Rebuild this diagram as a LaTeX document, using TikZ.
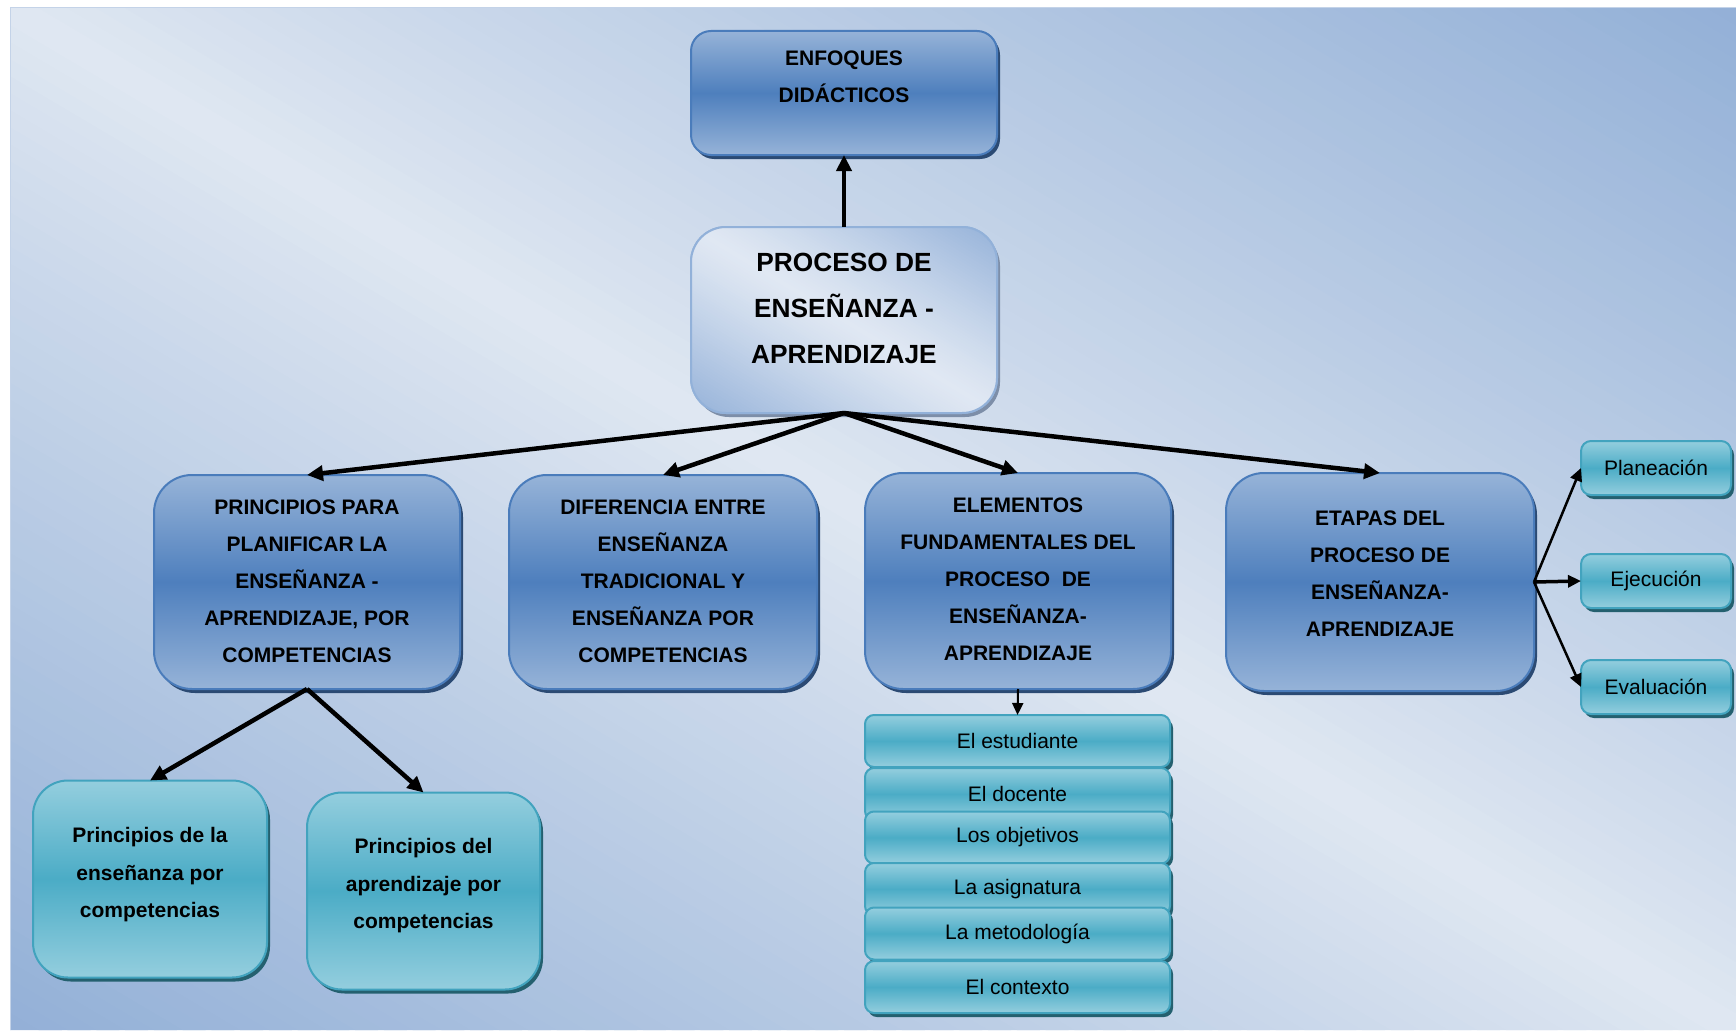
\documentclass[tikz,border=0pt]{standalone}
\usepackage{fontspec}
\setmainfont{Liberation Sans}
\usetikzlibrary{arrows.meta,shadows}
\definecolor{bgdark}{HTML}{93B0D7}
\definecolor{bglight}{HTML}{E0E8F2}
\definecolor{bgedge}{HTML}{C4D3E8}
\definecolor{blight}{HTML}{96B3D8}
\definecolor{bdark}{HTML}{4E7FBD}
\definecolor{bline}{HTML}{4A7CBB}
\definecolor{bshadow}{HTML}{2B4A73}
\definecolor{tlight}{HTML}{94CEDE}
\definecolor{tdark}{HTML}{4BACC6}
\definecolor{tline}{HTML}{42A3BE}
\definecolor{tshadow}{HTML}{24606F}
\definecolor{plight}{HTML}{E0E8F3}
\definecolor{pblue}{HTML}{95B2D9}
\definecolor{pline}{HTML}{92B1D9}
\definecolor{pshadow}{HTML}{7D8EA8}
% diagonal band shading built from thin strips: x0,y0,W,H,dark,light,exponent
\newcommand\mydiag[7]{%
  \foreach \k in {0,...,119}{%
    \pgfmathsetmacro\cc{-1+\k/60}%
    \pgfmathsetmacro\pp{100*(abs(\cc+1/120))^#7}%
    \fill[#5!\pp!#6] ({#1+#3*\cc},#2) -- ({#1+#3*(\cc+0.03)},#2) -- ({#1+#3*(\cc+1.03)},{#2+#4}) -- ({#1+#3*(\cc+1)},{#2+#4}) -- cycle;
  }}
\tikzset{
  bluebox/.style={draw=bline, line width=2pt, rounded corners=#1, inner sep=0pt, outer sep=0pt,
    top color=blight, bottom color=blight, middle color=bdark,
    drop shadow={shadow xshift=3pt, shadow yshift=-4pt, fill=bshadow, opacity=1}},
  bluebox/.default=38pt,
  tealbox/.style={draw=tline, line width=2pt, rounded corners=#1, inner sep=0pt, outer sep=0pt,
    top color=tlight, bottom color=tlight, middle color=tdark,
    drop shadow={shadow xshift=3pt, shadow yshift=-4pt, fill=tshadow, opacity=1}},
  tealbox/.default=10pt,
  procbox/.style={draw=pline, line width=2pt, rounded corners=35pt, inner sep=0pt, outer sep=0pt,
    fill=plight,
    drop shadow={shadow xshift=3pt, shadow yshift=-4pt, fill=pshadow, opacity=1}},
  btext/.style={align=center, inner sep=0pt, text=black, font=\fontsize{21}{37}\selectfont\bfseries},
  ltext/.style={font=\fontsize{21}{25}\selectfont, text=black},
  bigarrow/.style={line width=4.5pt, -{Triangle[length=16pt,width=15pt]}},
  midarrow/.style={line width=2.5pt, -{Triangle[length=13pt,width=12pt]}},
  smallarrow/.style={line width=2pt, -{Triangle[length=12pt,width=11pt]}},
}
\begin{document}
\begin{tikzpicture}[x=1pt,y=-1pt]
\useasboundingbox (0,0) rectangle (1736,1030);
\fill[white] (0,0) rectangle (1736,1030);
\begin{scope}
  \clip (10,8) rectangle (1736,1030);
  \mydiag{10}{8}{1726}{1022}{bgdark}{bglight}{0.9}
\end{scope}
\draw[bgedge, line width=1pt] (10,1030) -- (10,8) -- (1736,8);

% top
\node[bluebox=20pt, minimum width=306pt, minimum height=124pt] (enf) at (844,93) {};
\node[btext, font=\fontsize{21}{37}\selectfont\bfseries] (enft) at (844,77) {ENFOQUES\\DIDÁCTICOS};

\node[procbox, minimum width=306pt, minimum height=186pt] (proc) at (844,320) {};
\begin{scope}
  \clip[rounded corners=35pt] (proc.north west) rectangle (proc.south east);
  \mydiag{691}{227}{306}{186}{pblue}{plight}{1.2}
\end{scope}
\draw[pline, line width=2pt, rounded corners=35pt] (proc.north west) rectangle (proc.south east);
\node[btext, font=\fontsize{26.3}{46}\selectfont\bfseries] (proct) at (844,308) {PROCESO DE\\ENSEÑANZA -\\APRENDIZAJE};

% level 2
\node[bluebox, minimum width=306pt, minimum height=214pt] (prin) at (307,582) {};
\node[btext] (print) at (307,581) {PRINCIPIOS PARA\\PLANIFICAR LA\\ENSEÑANZA -\\APRENDIZAJE, POR\\COMPETENCIAS};

\node[bluebox, minimum width=308pt, minimum height=214pt] (dif) at (663,582) {};
\node[btext] (dift) at (663,581) {DIFERENCIA ENTRE\\ENSEÑANZA\\TRADICIONAL Y\\ENSEÑANZA POR\\COMPETENCIAS};

\node[bluebox, minimum width=306pt, minimum height=216pt] (ele) at (1018,581) {};
\node[btext] (elet) at (1018,579) {ELEMENTOS\\FUNDAMENTALES DEL\\PROCESO\ \ DE\\ENSEÑANZA-\\APRENDIZAJE};

\node[bluebox, minimum width=308pt, minimum height=218pt] (eta) at (1380,582) {};
\node[btext] (etat) at (1380,574) {ETAPAS DEL\\PROCESO DE\\ENSEÑANZA-\\APRENDIZAJE};

% lower left teal
\node[tealbox=35pt, minimum width=234pt, minimum height=197pt] (ens) at (150,879) {};
\node[btext, font=\fontsize{21}{37.5}\selectfont\bfseries] (enst) at (150,875) {Principios de la\\enseñanza por\\competencias};

\node[tealbox=35pt, minimum width=233pt, minimum height=197pt] (apr) at (423.5,891) {};
\node[btext, font=\fontsize{21}{37.5}\selectfont\bfseries] (aprt) at (423.5,886) {Principios del\\aprendizaje por\\competencias};

% right teal
\node[tealbox, minimum width=150pt, minimum height=54pt, ltext] (plan) at (1656,468) {Planeación};
\node[tealbox, minimum width=150pt, minimum height=54pt, ltext] (ejec) at (1656,581) {Ejecución};
\node[tealbox, minimum width=150pt, minimum height=54pt, ltext] (eval) at (1656,687) {Evaluación};

% list
\node[tealbox=9pt, minimum width=305pt, minimum height=52pt, ltext] (l1) at (1017.5,741) {El estudiante};
\node[tealbox=9pt, minimum width=305pt, minimum height=52pt, ltext] (l2) at (1017.5,794) {El docente};
\node[tealbox=9pt, minimum width=305pt, minimum height=52pt, ltext] (l3) at (1017.5,837.5) {Los objetivos};
\node[tealbox=9pt, minimum width=305pt, minimum height=52pt, ltext] (l4) at (1017.5,889) {La asignatura};
\node[tealbox=9pt, minimum width=305pt, minimum height=52pt, ltext] (l5) at (1017.5,933.5) {La metodología};
\node[tealbox=9pt, minimum width=305pt, minimum height=52pt, ltext] (l6) at (1017.5,987) {El contexto};

% connectors
\draw[bigarrow] (proc.north) -- (enf.south);
\draw[bigarrow] (proc.south) -- (prin.north);
\draw[bigarrow] (proc.south) -- (dif.north);
\draw[bigarrow] (proc.south) -- (ele.north);
\draw[bigarrow] (proc.south) -- (eta.north);
\draw[bigarrow] (prin.south) -- (ens.north);
\draw[bigarrow] (prin.south) -- (apr.north);
\draw[smallarrow] (ele.south) -- (l1.north);
\draw[midarrow] (eta.east) -- (plan.west);
\draw[midarrow, line width=3.5pt] (eta.east) -- (ejec.west);
\draw[midarrow] (eta.east) -- (eval.west);
\end{tikzpicture}
\end{document}
